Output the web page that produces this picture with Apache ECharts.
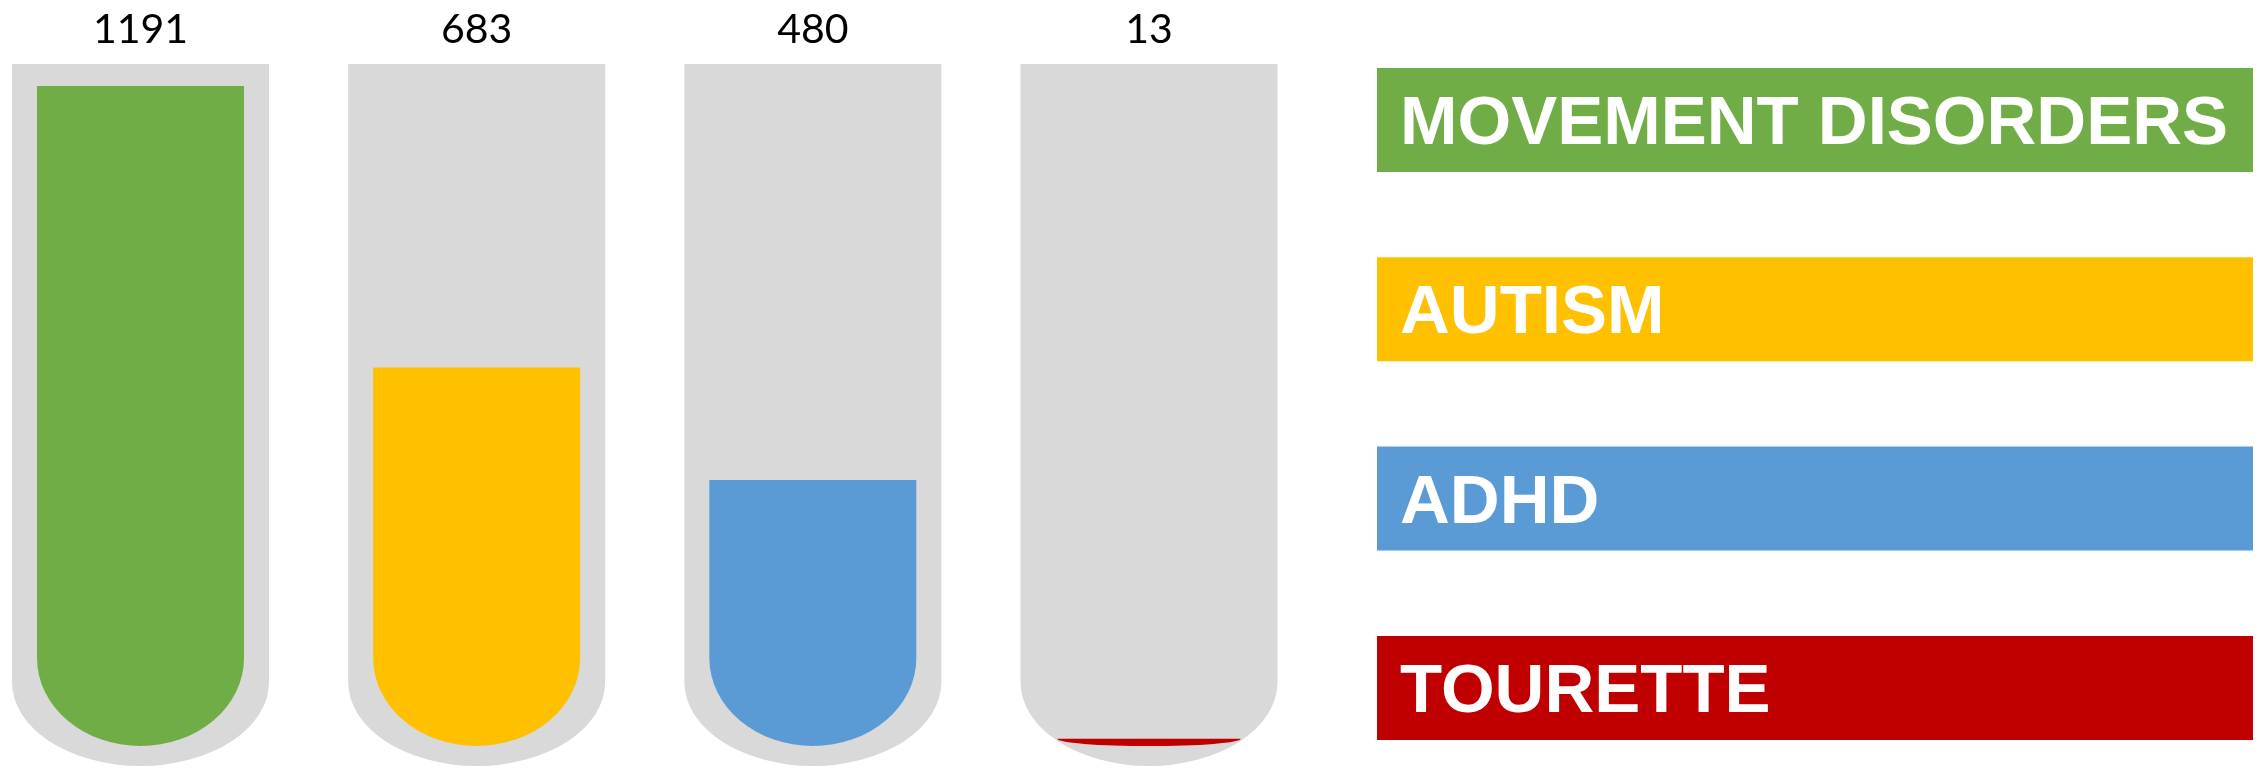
<!DOCTYPE html>
<html>
<head>
<meta charset="utf-8">
<title>Diagnoses</title>
<script src="https://cdn.jsdelivr.net/npm/echarts@6/dist/echarts.min.js"></script>
<style>
  html, body { margin: 0; padding: 0; background: #ffffff; }
  #chart { width: 2267px; height: 770px; }
</style>
</head>
<body>
<div id="chart"></div>
<script>
// Diagnosis groups and the number of cases in each
const categories = ['MOVEMENT DISORDERS', 'AUTISM', 'ADHD', 'TOURETTE'];
const counts = [1191, 683, 480, 13];

// Fill colour for each group (tube liquid and its legend block)
const palette = ['#70AD47', '#FFC000', '#5B9BD5', '#C00000'];
const TUBE_GREY = '#D9D9D9';

// Tube geometry (pixels)
const Y_MAX = 1200;
const TUBE_HALF = 128.5;     // half width of the glass
const TUBE_RY = 84;          // depth of the rounded glass bottom
const LIQ_HALF = 103.5;      // half width of the liquid column
const LIQ_RY = 88;           // depth of the rounded liquid bottom
const TUBE_ABOVE_MAX = 17;   // glass rim above the axis maximum
const TUBE_BELOW_ZERO = 20;  // glass bottom below the zero line

function tubePath(cx, top, straightEnd) {
  const l = cx - TUBE_HALF, r = cx + TUBE_HALF;
  return `M${l} ${top} L${r} ${top} L${r} ${straightEnd} ` +
         `A${TUBE_HALF} ${TUBE_RY} 0 0 1 ${l} ${straightEnd} Z`;
}

// half width of the glass at a given height, so thin fills stay inside it
function glassHalfAt(y, straightEnd) {
  if (y <= straightEnd) return TUBE_HALF;
  const t = (y - straightEnd) / TUBE_RY;
  return t >= 1 ? 0 : TUBE_HALF * Math.sqrt(1 - t * t);
}

function liquidPath(cx, level, bottom, straightEnd) {
  const h = bottom - level;
  if (h <= 0) return null;
  if (h >= LIQ_RY) {
    const l = cx - LIQ_HALF, r = cx + LIQ_HALF, se = bottom - LIQ_RY;
    return `M${l} ${level} L${r} ${level} L${r} ${se} ` +
           `A${LIQ_HALF} ${LIQ_RY} 0 0 1 ${l} ${se} Z`;
  }
  const rx = Math.min(LIQ_HALF, glassHalfAt(level, straightEnd) - 3);
  return `M${cx - rx} ${level} L${cx + rx} ${level} ` +
         `A${rx} ${h} 0 0 1 ${cx - rx} ${level} Z`;
}

function renderTube(params, api) {
  const idx = api.value(0);
  const val = api.value(1);
  const zero = api.coord([idx, 0]);
  const cx = zero[0];
  const bottom = zero[1];
  const level = api.coord([idx, val])[1];
  const top = api.coord([idx, Y_MAX])[1] - TUBE_ABOVE_MAX;
  const outerBottom = bottom + TUBE_BELOW_ZERO;
  const straightEnd = outerBottom - TUBE_RY;

  const children = [{
    type: 'path',
    shape: { pathData: tubePath(cx, top, straightEnd) },
    style: { fill: TUBE_GREY }
  }];
  const lp = liquidPath(cx, level, bottom, straightEnd);
  if (lp) {
    children.push({
      type: 'path',
      shape: { pathData: lp },
      style: { fill: palette[idx] }
    });
  }
  children.push({
    type: 'text',
    style: {
      text: String(val),
      x: cx,
      y: top - 34,
      align: 'center',
      verticalAlign: 'middle',
      font: '41px Lato, "Noto Sans", sans-serif',
      fill: '#000000'
    }
  });
  return { type: 'group', children };
}

// Legend blocks on the right, one per group
const LEG_LEFT = 1377, LEG_TOP = 68, LEG_W = 876, LEG_H = 104, LEG_STEP = 189.3;
const legendBlocks = categories.map((name, i) => ({
  type: 'group',
  left: LEG_LEFT,
  top: LEG_TOP + i * LEG_STEP,
  children: [
    {
      type: 'rect',
      shape: { x: 0, y: 0, width: LEG_W, height: LEG_H },
      style: { fill: palette[i] }
    },
    {
      type: 'text',
      style: {
        text: name,
        x: 23,
        y: LEG_H / 2 + 5,
        verticalAlign: 'middle',
        align: 'left',
        font: 'bold 69px "Liberation Sans", Arial, sans-serif',
        fill: '#ffffff'
      }
    }
  ]
}));

const chart = echarts.init(document.getElementById('chart'), null, { renderer: 'canvas' });
chart.setOption({
  animation: false,
  backgroundColor: '#ffffff',
  grid: { left: 140.5, right: 1118, top: 81, bottom: 24 },
  xAxis: {
    type: 'category',
    data: categories,
    boundaryGap: false,
    show: false
  },
  yAxis: {
    type: 'value',
    min: 0,
    max: Y_MAX,
    show: false,
    splitLine: { show: false }
  },
  series: [{
    type: 'custom',
    renderItem: renderTube,
    encode: { x: 0, y: 1 },
    data: counts.map((v, i) => [i, v]),
    clip: false
  }],
  graphic: legendBlocks
});
</script>
</body>
</html>
